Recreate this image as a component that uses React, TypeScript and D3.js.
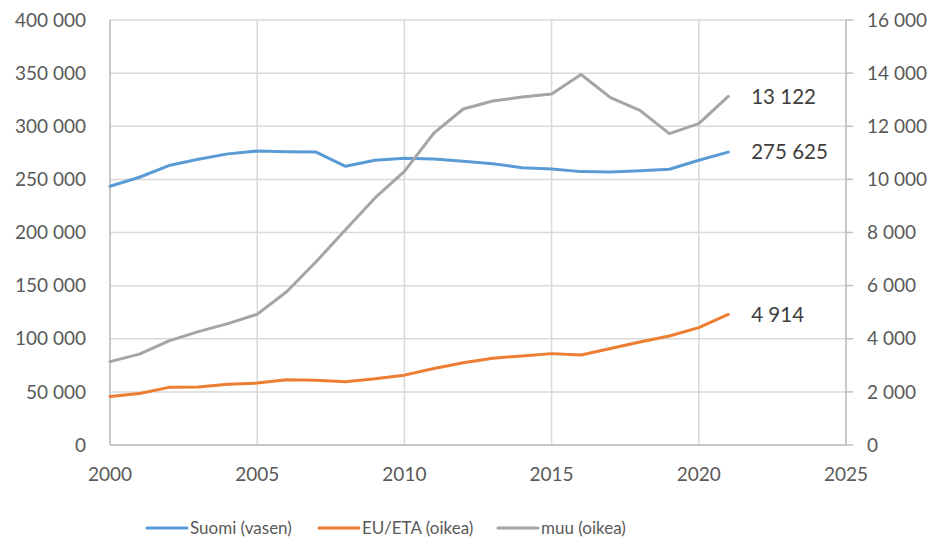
import React from 'react';
import * as d3 from 'd3';

// Years and series values
const years = [2000, 2001, 2002, 2003, 2004, 2005, 2006, 2007, 2008, 2009, 2010,
  2011, 2012, 2013, 2014, 2015, 2016, 2017, 2018, 2019, 2020, 2021];

const suomi = [243500, 252000, 263000, 269000, 274000, 276700, 276000, 275700, 262300, 268000, 269800,
  269200, 267000, 264800, 261000, 259800, 257300, 257000, 258200, 259500, 268000, 275625];

const euEta = [1830, 1940, 2170, 2180, 2290, 2330, 2455, 2440, 2380, 2490, 2630,
  2880, 3100, 3268, 3355, 3440, 3390, 3630, 3880, 4105, 4420, 4914];

const muu = [3140, 3420, 3920, 4270, 4570, 4920, 5770, 6900, 8100, 9300, 10300,
  11740, 12650, 12950, 13100, 13210, 13950, 13080, 12600, 11720, 12100, 13122];

const xTicks = [2000, 2005, 2010, 2015, 2020, 2025];
const leftTicks = [0, 50000, 100000, 150000, 200000, 250000, 300000, 350000, 400000];
const rightTicks = [0, 2000, 4000, 6000, 8000, 10000, 12000, 14000, 16000];

const legendItems = [
  { label: 'Suomi (vasen)', color: '#5B9BD5' },
  { label: 'EU/ETA (oikea)', color: '#ED7D31' },
  { label: 'muu (oikea)', color: '#A5A5A5' },
];

const W = 936;
const H = 539;
const margin = { top: 20, right: 90, bottom: 94, left: 110 };
const font = 'Lato, "Open Sans", sans-serif';

// thousands with a space, like the Finnish format
const fmt = (v: number) => d3.format(',')(v).replace(/,/g, ' ');

export default function App() {
  const x = d3.scaleLinear().domain([2000, 2025]).range([margin.left, W - margin.right]);
  const yL = d3.scaleLinear().domain([0, 400000]).range([H - margin.bottom, margin.top]);
  const yR = d3.scaleLinear().domain([0, 16000]).range([H - margin.bottom, margin.top]);

  const lineL = d3.line<number>().x((_, i) => x(years[i])).y(d => yL(d));
  const lineR = d3.line<number>().x((_, i) => x(years[i])).y(d => yR(d));

  const last = years.length - 1;
  const endLabels = [
    { text: fmt(muu[last]), y: yR(muu[last]) },
    { text: fmt(suomi[last]), y: yL(suomi[last]) },
    { text: fmt(euEta[last]), y: yR(euEta[last]) },
  ];

  const legendX = [147, 319, 498];

  return (
    <svg width={W} height={H} style={{ position: 'absolute', left: 0, top: 0, background: '#fff' }}>
      {/* horizontal gridlines */}
      {leftTicks.map(t => (
        <line key={'h' + t} x1={x(2000)} x2={x(2025)} y1={yL(t)} y2={yL(t)} stroke="#d9d9d9" strokeWidth={1.5} />
      ))}
      {/* vertical gridlines */}
      {xTicks.map(t => (
        <line key={'v' + t} x1={x(t)} x2={x(t)} y1={yL(0)} y2={yL(400000)} stroke="#d9d9d9" strokeWidth={1.5} />
      ))}
      {/* axis lines */}
      <line x1={x(2000)} x2={x(2000)} y1={yL(0)} y2={yL(400000)} stroke="#bfbfbf" strokeWidth={1.5} />
      <line x1={x(2025)} x2={x(2025)} y1={yL(0)} y2={yL(400000)} stroke="#bfbfbf" strokeWidth={1.5} />
      <line x1={x(2000)} x2={x(2025)} y1={yL(0)} y2={yL(0)} stroke="#bfbfbf" strokeWidth={1.5} />
      {/* right axis tick marks */}
      {rightTicks.map(t => (
        <line key={'rt' + t} x1={x(2025)} x2={x(2025) + 7} y1={yR(t)} y2={yR(t)} stroke="#bfbfbf" strokeWidth={1.5} />
      ))}

      {/* left tick labels */}
      {leftTicks.map(t => (
        <text key={'l' + t} x={x(2000) - 24} y={yL(t)} dy="0.35em" textAnchor="end"
          fontFamily={font} fontSize={19} fill="#595959">{fmt(t)}</text>
      ))}
      {/* right tick labels */}
      {rightTicks.map(t => (
        <text key={'r' + t} x={x(2025) + 21} y={yR(t)} dy="0.35em" textAnchor="start"
          fontFamily={font} fontSize={19} fill="#595959">{fmt(t)}</text>
      ))}
      {/* x tick labels */}
      {xTicks.map(t => (
        <text key={'x' + t} x={x(t)} y={yL(0) + 29} dy="0.35em" textAnchor="middle"
          fontFamily={font} fontSize={19} fill="#595959">{t}</text>
      ))}

      {/* series */}
      <path d={lineL(suomi) || ''} fill="none" stroke="#5B9BD5" strokeWidth={3} strokeLinejoin="round" strokeLinecap="round" />
      <path d={lineR(euEta) || ''} fill="none" stroke="#ED7D31" strokeWidth={3} strokeLinejoin="round" strokeLinecap="round" />
      <path d={lineR(muu) || ''} fill="none" stroke="#A5A5A5" strokeWidth={3} strokeLinejoin="round" strokeLinecap="round" />

      {/* end value labels */}
      {endLabels.map(l => (
        <text key={l.text} x={x(2021) + 23} y={l.y} dy="0.35em" fontFamily={font} fontSize={20.5} fill="#404040">{l.text}</text>
      ))}

      {/* legend */}
      {legendItems.map((d, i) => (
        <g key={d.label} transform={`translate(${legendX[i]},528)`}>
          <line x1={0} x2={40} y1={0} y2={0} stroke={d.color} strokeWidth={3} strokeLinecap="round" />
          <text x={43} y={0} dy="0.35em" fontFamily={font} fontSize={17} fill="#595959">{d.label}</text>
        </g>
      ))}
    </svg>
  );
}
